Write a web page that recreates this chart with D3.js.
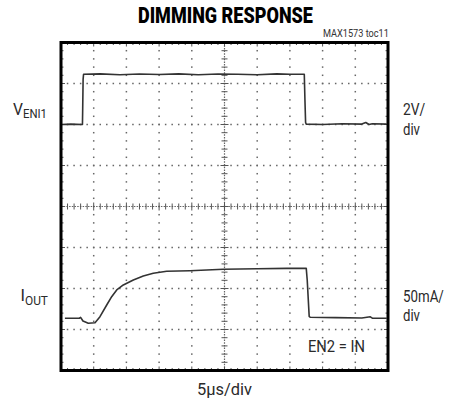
<!DOCTYPE html>
<html><head><meta charset="utf-8">
<script src="https://cdn.jsdelivr.net/npm/d3@7"></script>
<style>
html,body{margin:0;padding:0;background:#fff;}
svg{display:block;}
text{font-family:"Roboto","Liberation Sans",sans-serif;fill:#2a2a2a;}
</style></head>
<body>
<svg id="c" width="449" height="402"></svg>
<script>
// ---- data ----
const timeDomain = [0, 50];            // µs, 5 µs/div, 10 divisions
const voltDomain = [-12, 4];           // V, 2 V/div, channel 1 ground 6 div above bottom
const currDomain = [0, 400];           // mA, 50 mA/div, channel 2 ground at bottom
const hDivs = 10, vDivs = 8, minorPerDiv = 5;

const venTime = [0.1, 1.5, 3.28, 3.32, 3.38, 3.45, 6, 9, 12, 15, 18, 21, 24, 27, 30, 33, 35, 37.2, 37.3, 37.4, 37.5, 40, 43, 46, 46.6, 47.1, 47.6, 49.8];
const venVolt = [0.0, 0.02, 0.0, 0.8, 2.2, 2.45, 2.47, 2.43, 2.46, 2.44, 2.47, 2.43, 2.46, 2.45, 2.43, 2.47, 2.45, 2.45, 1.2, 0.1, 0.02, 0.0, 0.04, 0.02, 0.1, 0.0, 0.04, 0.02];

const ioutTime = [0.6, 2.8, 3.0, 3.36, 4.17, 5.2, 5.96, 6.99, 7.75, 8.52, 9.53, 11.06, 12.58, 14.11, 16.16, 19.72, 24.82, 30, 34.51, 37.5, 37.65, 37.95, 38.1, 42, 46, 47.3, 47.6, 49.8];
const ioutMA   = [63.7, 63.7, 64.8, 60.4, 57.6, 58.3, 65.6, 79.9, 90.0, 98.2, 104.3, 110.4, 115.2, 118.5, 121.0, 121.7, 123.4, 124.0, 124.6, 124.6, 110, 66, 64.9, 64.5, 64.0, 65.5, 63.8, 63.7];

const title = "DIMMING RESPONSE";
const tocLabel = "MAX1573 toc11";
const xLabel = "5\u00b5s/div";

// ---- layout ----
const L = 61, R = 388, T = 42.5, B = 370.5;
const svg = d3.select("#c");
const x = d3.scaleLinear().domain(timeDomain).range([L, R]);
const yV = d3.scaleLinear().domain(voltDomain).range([B, T]);
const yI = d3.scaleLinear().domain(currDomain).range([B, T]);
const xDiv = d3.scaleLinear().domain([0, hDivs]).range([L, R]);
const yDiv = d3.scaleLinear().domain([0, vDivs]).range([B, T]);

const g = svg.append("g");

// dotted grid
for (let i = 1; i < hDivs; i++) {
  if (i === hDivs / 2) continue;
  for (let k = 1; k < vDivs * minorPerDiv; k++) {
    g.append("rect").attr("x", xDiv(i) - 0.75).attr("y", yDiv(k / minorPerDiv) - 0.75)
      .attr("width", 1.5).attr("height", 1.5).attr("fill", "#666");
  }
}
for (let j = 1; j < vDivs; j++) {
  if (j === vDivs / 2) continue;
  for (let k = 1; k < hDivs * minorPerDiv; k++) {
    g.append("rect").attr("x", xDiv(k / minorPerDiv) - 0.75).attr("y", yDiv(j) - 0.75)
      .attr("width", 1.5).attr("height", 1.5).attr("fill", "#666");
  }
}
// center axes
const cx = xDiv(hDivs / 2), cy = yDiv(vDivs / 2);
g.append("line").attr("x1", L).attr("x2", R).attr("y1", cy).attr("y2", cy)
  .attr("stroke", "#666").attr("stroke-width", 1.2).attr("stroke-dasharray", "1.5,1.2");
g.append("line").attr("x1", cx).attr("x2", cx).attr("y1", T).attr("y2", B)
  .attr("stroke", "#666").attr("stroke-width", 1.2).attr("stroke-dasharray", "1.5,1.2");
for (let k = 1; k < hDivs * minorPerDiv; k++) {
  const xx = xDiv(k / minorPerDiv);
  const big = k % minorPerDiv === 0;
  g.append("line").attr("x1", xx).attr("x2", xx).attr("y1", cy - (big ? 4 : 3)).attr("y2", cy + (big ? 4 : 3))
    .attr("stroke", "#555").attr("stroke-width", 1);
  g.append("line").attr("x1", xx).attr("x2", xx).attr("y1", T).attr("y2", T + (big ? 4 : 2.5))
    .attr("stroke", "#555").attr("stroke-width", 1);
  g.append("line").attr("x1", xx).attr("x2", xx).attr("y1", B).attr("y2", B - (big ? 4 : 2.5))
    .attr("stroke", "#555").attr("stroke-width", 1);
}
for (let k = 1; k < vDivs * minorPerDiv; k++) {
  const yy = yDiv(k / minorPerDiv);
  const big = k % minorPerDiv === 0;
  g.append("line").attr("y1", yy).attr("y2", yy).attr("x1", cx - (big ? 4 : 3)).attr("x2", cx + (big ? 4 : 3))
    .attr("stroke", "#555").attr("stroke-width", 1);
  g.append("line").attr("y1", yy).attr("y2", yy).attr("x1", L).attr("x2", L + (big ? 4 : 2.5))
    .attr("stroke", "#555").attr("stroke-width", 1);
  g.append("line").attr("y1", yy).attr("y2", yy).attr("x1", R).attr("x2", R - (big ? 4 : 2.5))
    .attr("stroke", "#555").attr("stroke-width", 1);
}

// traces
const lineV = d3.line().x(d => x(d[0])).y(d => yV(d[1]));
const lineI = d3.line().x(d => x(d[0])).y(d => yI(d[1]));
g.append("path").attr("d", lineV(d3.zip(venTime, venVolt)))
  .attr("fill", "none").attr("stroke", "#333").attr("stroke-width", 1.6).attr("stroke-linejoin", "round");
g.append("path").attr("d", lineI(d3.zip(ioutTime, ioutMA)))
  .attr("fill", "none").attr("stroke", "#333").attr("stroke-width", 1.6).attr("stroke-linejoin", "round");

// frame
svg.append("rect").attr("x", L).attr("y", T).attr("width", R - L).attr("height", B - T)
  .attr("fill", "none").attr("stroke", "#000").attr("stroke-width", 3);

// texts: fit each to the width it has in the reference
function fit(sel, x0, width, anchor) {
  const w = sel.node().getBBox().width;
  const s = width / w;
  let tx = x0;
  if (anchor === "end") tx = x0 - width;
  if (anchor === "middle") tx = x0 - width / 2;
  sel.attr("x", 0).attr("transform", `translate(${tx},0) scale(${s},1)`);
  return sel;
}
function label(txt, x0, y0, size, width, anchor) {
  const t = svg.append("text").attr("y", y0).attr("font-size", size).text(txt);
  return fit(t, x0, width, anchor);
}

const tt = svg.append("text").attr("y", 23).text(title)
  .attr("font-size", 22).attr("font-weight", 900).style("fill", "#000");
fit(tt, 138, 175);
label(tocLabel, 389, 37, 10.5, 66, "end").style("fill", "#333");

const vl = svg.append("text").attr("y", 115).attr("font-size", 16.5);
vl.append("tspan").text("V");
vl.append("tspan").attr("font-size", 12).attr("dy", 3).text("ENI1");
fit(vl, 13, 34);
const il = svg.append("text").attr("y", 301).attr("font-size", 16.5);
il.append("tspan").text("I");
il.append("tspan").attr("font-size", 12).attr("dy", 4).text("OUT");
fit(il, 20.5, 27.5);

label("2V/", 403, 115, 16.5, 22.5);
label("div", 403, 135, 16.5, 17);
label("50mA/", 403, 302, 16.5, 41);
label("div", 403, 321, 16.5, 17);
label("EN2 = IN", 308, 352, 16.5, 57);
label(xLabel, 224.5, 395, 16.5, 55, "middle");
</script>
</body></html>
